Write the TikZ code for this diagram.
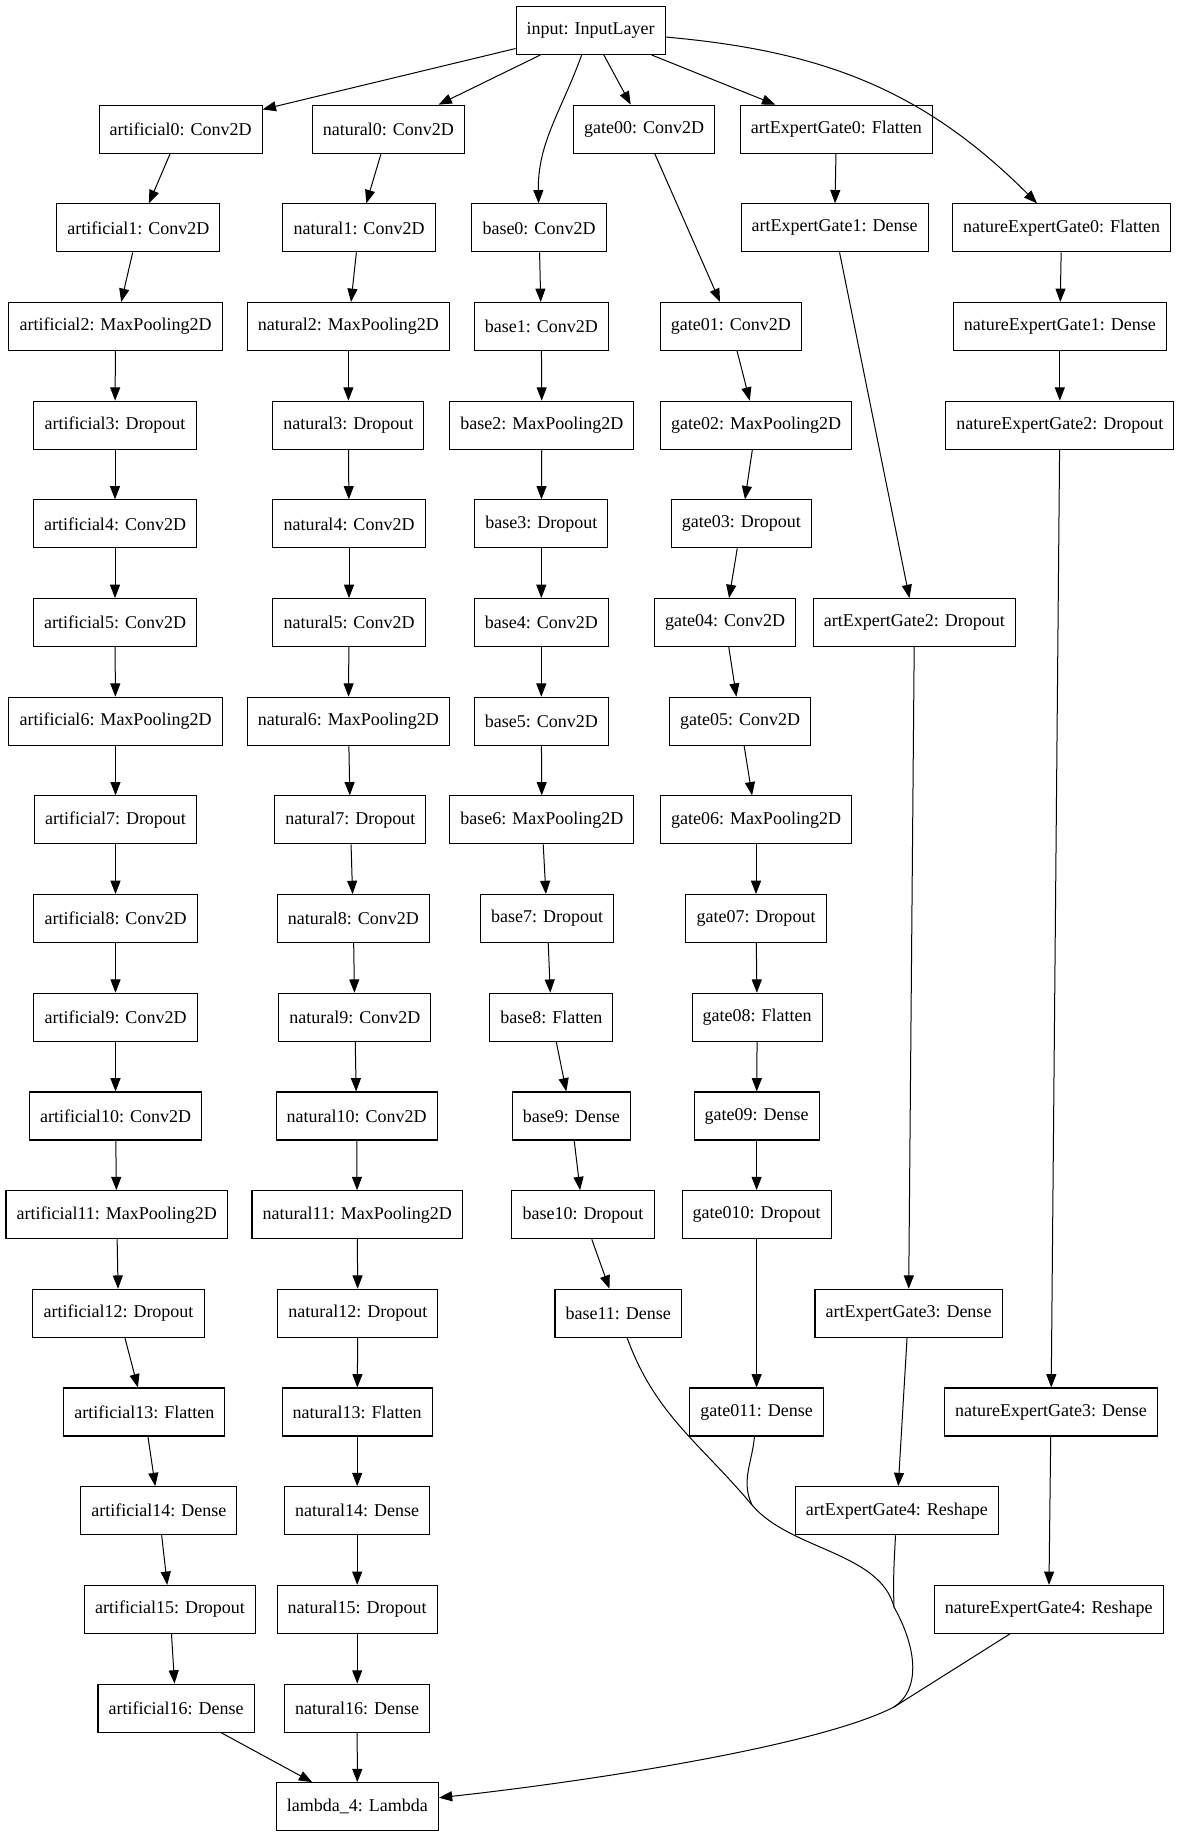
\documentclass[tikz,border=0pt]{standalone}
\usepackage{fontspec}
\setmainfont{Liberation Serif}
\usetikzlibrary{arrows.meta}

\begin{document}
\begin{tikzpicture}[x=0.75pt, y=-0.75pt,
        layer/.style={draw, rectangle, line width=0.8pt, minimum height=36pt, inner xsep=7.92pt, inner ysep=0pt, font=\fontsize{13.5}{16}\selectfont},
        edge/.style={line width=0.75pt, -{Triangle[length=10pt, width=7.5pt]}},
        merge/.style={line width=0.75pt}]
        \useasboundingbox (0,0) rectangle (1179,1837);

        \node[layer] (inp) at (590.6,30.5) {input: InputLayer};

        \node[layer] (a0) at (180.6,129.2) {artificial0: Conv2D};
        \node[layer] (n0) at (388.3,129.2) {natural0: Conv2D};
        \node[layer] (g0) at (644.0,129.2) {gate00: Conv2D};
        \node[layer] (ae0) at (836.4,129.2) {artExpertGate0: Flatten};

        \node[layer] (a1) at (138.4,227.9) {artificial1: Conv2D};
        \node[layer] (n1) at (359.0,227.9) {natural1: Conv2D};
        \node[layer] (b0) at (539.0,227.9) {base0: Conv2D};
        \node[layer] (ae1) at (834.6,227.9) {artExpertGate1: Dense};
        \node[layer] (ne0) at (1061.6,227.9) {natureExpertGate0: Flatten};

        \node[layer] (a2) at (115.5,326.5) {artificial2: MaxPooling2D};
        \node[layer] (n2) at (348.4,326.5) {natural2: MaxPooling2D};
        \node[layer] (b1) at (541.3,326.5) {base1: Conv2D};
        \node[layer] (g1) at (730.8,326.5) {gate01: Conv2D};
        \node[layer] (ne1) at (1059.8,326.5) {natureExpertGate1: Dense};

        \node[layer] (a3) at (115.0,425.2) {artificial3: Dropout};
        \node[layer] (n3) at (348.4,425.2) {natural3: Dropout};
        \node[layer] (b2) at (541.9,425.2) {base2: MaxPooling2D};
        \node[layer] (g2) at (756.0,425.2) {gate02: MaxPooling2D};
        \node[layer] (ne2) at (1059.8,425.2) {natureExpertGate2: Dropout};

        \node[layer] (a4) at (115.0,523.9) {artificial4: Conv2D};
        \node[layer] (n4) at (349.0,523.9) {natural4: Conv2D};
        \node[layer] (b3) at (541.3,523.9) {base3: Dropout};
        \node[layer] (g3) at (741.3,523.9) {gate03: Dropout};

        \node[layer] (a5) at (115.0,622.6) {artificial5: Conv2D};
        \node[layer] (n5) at (349.0,622.6) {natural5: Conv2D};
        \node[layer] (b4) at (541.3,622.6) {base4: Conv2D};
        \node[layer] (g4) at (725.0,622.6) {gate04: Conv2D};
        \node[layer] (ae2) at (914.4,622.6) {artExpertGate2: Dropout};

        \node[layer] (a6) at (115.5,721.3) {artificial6: MaxPooling2D};
        \node[layer] (n6) at (348.4,721.3) {natural6: MaxPooling2D};
        \node[layer] (b5) at (541.3,721.3) {base5: Conv2D};
        \node[layer] (g5) at (740.2,721.3) {gate05: Conv2D};

        \node[layer] (a7) at (115.5,819.9) {artificial7: Dropout};
        \node[layer] (n7) at (350.3,819.9) {natural7: Dropout};
        \node[layer] (b6) at (541.9,819.9) {base6: MaxPooling2D};
        \node[layer] (g6) at (756.0,819.9) {gate06: MaxPooling2D};

        \node[layer] (a8) at (115.5,918.6) {artificial8: Conv2D};
        \node[layer] (n8) at (353.3,918.6) {natural8: Conv2D};
        \node[layer] (b7) at (547.2,918.6) {base7: Dropout};
        \node[layer] (g7) at (756.0,918.6) {gate07: Dropout};

        \node[layer] (a9) at (115.5,1017.3) {artificial9: Conv2D};
        \node[layer] (n9) at (354.8,1017.3) {natural9: Conv2D};
        \node[layer] (b8) at (551.3,1017.3) {base8: Flatten};
        \node[layer] (g8) at (757.2,1017.3) {gate08: Flatten};

        \node[layer] (a10) at (115.5,1116.0) {artificial10: Conv2D};
        \node[layer] (n10) at (356.6,1116.0) {natural10: Conv2D};
        \node[layer] (b9) at (571.3,1116.0) {base9: Dense};
        \node[layer] (g9) at (756.6,1116.0) {gate09: Dense};

        \node[layer] (a11) at (116.7,1214.7) {artificial11: MaxPooling2D};
        \node[layer] (n11) at (357.2,1214.7) {natural11: MaxPooling2D};
        \node[layer] (b10) at (583.0,1214.7) {base10: Dropout};
        \node[layer] (g10) at (756.6,1214.7) {gate010: Dropout};

        \node[layer] (a12) at (118.5,1313.3) {artificial12: Dropout};
        \node[layer] (n12) at (357.8,1313.3) {natural12: Dropout};
        \node[layer] (b11) at (618.2,1313.3) {base11: Dense};
        \node[layer] (ae3) at (908.5,1313.3) {artExpertGate3: Dense};

        \node[layer] (a13) at (144.3,1412.0) {artificial13: Flatten};
        \node[layer] (n13) at (357.2,1412.0) {natural13: Flatten};
        \node[layer] (g11) at (756.6,1412.0) {gate011: Dense};
        \node[layer] (ne3) at (1051.0,1412.0) {natureExpertGate3: Dense};

        \node[layer] (a14) at (158.9,1510.7) {artificial14: Dense};
        \node[layer] (n14) at (357.2,1510.7) {natural14: Dense};
        \node[layer] (ae4) at (896.8,1510.7) {artExpertGate4: Reshape};

        \node[layer] (a15) at (170.0,1609.4) {artificial15: Dropout};
        \node[layer] (n15) at (357.2,1609.4) {natural15: Dropout};
        \node[layer] (ne4) at (1048.7,1609.4) {natureExpertGate4: Reshape};

        \node[layer] (a16) at (176.0,1708.1) {artificial16: Dense};
        \node[layer] (n16) at (357.2,1708.1) {natural16: Dense};

        \node[layer] (lam) at (357.3,1806.7) {lambda\_4: Lambda};

        \coordinate (m1) at (752,1505);
        \coordinate (m2) at (894,1607);
        \coordinate (m3) at (894,1707);

        \draw[edge] (inp) -- (a0);
        \draw[edge] (inp) -- (n0);
        \draw[edge] (inp) to [out=-110, in=91] (b0);
        \draw[edge] (inp) -- (g0);
        \draw[edge] (inp) -- (ae0);
        \draw[edge] (inp) to [out=-5, in=135] (ne0);

        \draw[edge] (a0) -- (a1);
        \draw[edge] (a1) -- (a2);
        \draw[edge] (a2) -- (a3);
        \draw[edge] (a3) -- (a4);
        \draw[edge] (a4) -- (a5);
        \draw[edge] (a5) -- (a6);
        \draw[edge] (a6) -- (a7);
        \draw[edge] (a7) -- (a8);
        \draw[edge] (a8) -- (a9);
        \draw[edge] (a9) -- (a10);
        \draw[edge] (a10) -- (a11);
        \draw[edge] (a11) -- (a12);
        \draw[edge] (a12) -- (a13);
        \draw[edge] (a13) -- (a14);
        \draw[edge] (a14) -- (a15);
        \draw[edge] (a15) -- (a16);
        \draw[edge] (a16) -- (lam);

        \draw[edge] (n0) -- (n1);
        \draw[edge] (n1) -- (n2);
        \draw[edge] (n2) -- (n3);
        \draw[edge] (n3) -- (n4);
        \draw[edge] (n4) -- (n5);
        \draw[edge] (n5) -- (n6);
        \draw[edge] (n6) -- (n7);
        \draw[edge] (n7) -- (n8);
        \draw[edge] (n8) -- (n9);
        \draw[edge] (n9) -- (n10);
        \draw[edge] (n10) -- (n11);
        \draw[edge] (n11) -- (n12);
        \draw[edge] (n12) -- (n13);
        \draw[edge] (n13) -- (n14);
        \draw[edge] (n14) -- (n15);
        \draw[edge] (n15) -- (n16);
        \draw[edge] (n16) -- (lam);

        \draw[edge] (b0) -- (b1);
        \draw[edge] (b1) -- (b2);
        \draw[edge] (b2) -- (b3);
        \draw[edge] (b3) -- (b4);
        \draw[edge] (b4) -- (b5);
        \draw[edge] (b5) -- (b6);
        \draw[edge] (b6) -- (b7);
        \draw[edge] (b7) -- (b8);
        \draw[edge] (b8) -- (b9);
        \draw[edge] (b9) -- (b10);
        \draw[edge] (b10) -- (b11);

        \draw[edge] (g0) -- (g1);
        \draw[edge] (g1) -- (g2);
        \draw[edge] (g2) -- (g3);
        \draw[edge] (g3) -- (g4);
        \draw[edge] (g4) -- (g5);
        \draw[edge] (g5) -- (g6);
        \draw[edge] (g6) -- (g7);
        \draw[edge] (g7) -- (g8);
        \draw[edge] (g8) -- (g9);
        \draw[edge] (g9) -- (g10);
        \draw[edge] (g10) -- (g11);

        \draw[edge] (ae0) -- (ae1);
        \draw[edge] (ae1) -- (ae2);
        \draw[edge] (ae2) -- (ae3);
        \draw[edge] (ae3) -- (ae4);

        \draw[edge] (ne0) -- (ne1);
        \draw[edge] (ne1) -- (ne2);
        \draw[edge] (ne2) -- (ne3);
        \draw[edge] (ne3) -- (ne4);

        % the four last branches run together into lambda_4
        \draw[merge] (b11) to [out=-70, in=130] (m1);
        \draw[merge] (g11) to [out=-95, in=115] (m1);
        \draw[merge] (m1) .. controls (790,1550) and (880,1552) .. (m2);
        \draw[merge] (ae4) to [out=-93, in=92] (m2);
        \draw[merge] (m2) .. controls (918,1650) and (920,1690) .. (m3);
        \draw[merge] (ne4) -- (m3);
        \draw[edge] (m3) .. controls (820,1745) and (600,1780) .. (lam);
    \end{tikzpicture}
\end{document}
